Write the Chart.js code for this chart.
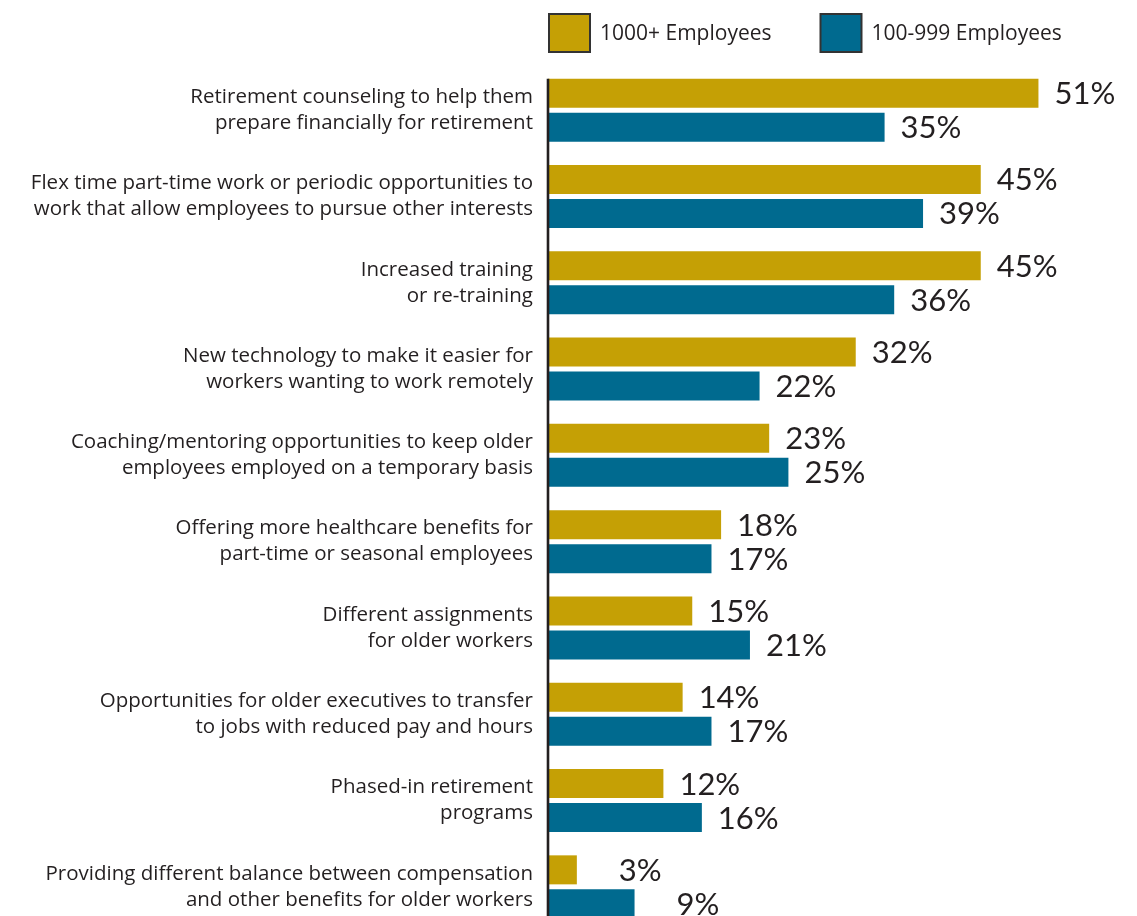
<!DOCTYPE html>
<html>
<head>
<meta charset="utf-8">
<script src="https://cdn.jsdelivr.net/npm/chart.js@4.4.1/dist/chart.umd.min.js"></script>
<style>
  html, body { margin: 0; padding: 0; background: #fff; overflow: hidden; }
  canvas { display: block; }
</style>
</head>
<body>
<canvas id="programs-chart" width="1137" height="975"></canvas>
<script>
// Programs offered to older workers, by company size (% of employers)
const categories = [
  ['Retirement counseling to help them', 'prepare financially for retirement'],
  ['Flex time part-time work or periodic opportunities to', 'work that allow employees to pursue other interests'],
  ['Increased training', 'or re-training'],
  ['New technology to make it easier for', 'workers wanting to work remotely'],
  ['Coaching/mentoring opportunities to keep older', 'employees employed on a temporary basis'],
  ['Offering more healthcare benefits for', 'part-time or seasonal employees'],
  ['Different assignments', 'for older workers'],
  ['Opportunities for older executives to transfer', 'to jobs with reduced pay and hours'],
  ['Phased-in retirement', 'programs'],
  ['Providing different balance between compensation', 'and other benefits for older workers']
];
const largeEmployers = [51, 45, 45, 32, 23, 18, 15, 14, 12, 3];
const midEmployers = [35, 39, 36, 22, 25, 17, 21, 17, 16, 9];
const seriesNames = ['1000+ Employees', '100-999 Employees'];

const GOLD = '#C5A005';
const BLUE = '#006A8F';
const INK = '#231F20';
const labelFont = '"Open Sans", Roboto, sans-serif';
const valueFont = 'Lato, "Open Sans", sans-serif';

// legend drawn above the bars, lined up with the axis
const legendBoxes = {
  id: 'legendBoxes',
  afterDraw(chart) {
    const ctx = chart.ctx;
    const boxW = 41, boxH = 38, top = 14;
    let x = chart.chartArea.left + 1;
    ctx.save();
    ctx.font = '21px ' + labelFont;
    ctx.textBaseline = 'middle';
    ctx.textAlign = 'left';
    chart.data.datasets.forEach(ds => {
      ctx.fillStyle = ds.backgroundColor;
      ctx.fillRect(x, top, boxW, boxH);
      ctx.lineWidth = 2;
      ctx.strokeStyle = '#333';
      ctx.strokeRect(x, top, boxW, boxH);
      ctx.fillStyle = INK;
      const tx = x + boxW + 10;
      ctx.fillText(ds.label, tx, top + boxH / 2 + 1);
      x = tx + ctx.measureText(ds.label).width + 49;
    });
    ctx.restore();
  }
};

// vertical axis line starting at the first bar
const axisLine = {
  id: 'axisLine',
  afterDatasetsDraw(chart) {
    const ctx = chart.ctx;
    const first = chart.getDatasetMeta(0).data[0];
    const top = first.y - first.height / 2;
    ctx.save();
    ctx.strokeStyle = INK;
    ctx.lineWidth = 2.6;
    ctx.beginPath();
    ctx.moveTo(chart.chartArea.left, top);
    ctx.lineTo(chart.chartArea.left, chart.height);
    ctx.stroke();
    ctx.restore();
  }
};

// percentage printed after each bar
const valueLabels = {
  id: 'valueLabels',
  afterDatasetsDraw(chart) {
    const ctx = chart.ctx;
    ctx.save();
    ctx.font = '31px ' + valueFont;
    ctx.fillStyle = INK;
    ctx.textAlign = 'left';
    ctx.textBaseline = 'middle';
    const pad = ctx.measureText('0 ').width;
    chart.data.datasets.forEach((ds, di) => {
      chart.getDatasetMeta(di).data.forEach((bar, i) => {
        const v = ds.data[i];
        const x = bar.x + 16 + (v < 10 ? pad : 0);
        ctx.fillText(v + '%', x, bar.y + 1);
      });
    });
    ctx.restore();
  }
};

new Chart(document.getElementById('programs-chart'), {
  type: 'bar',
  data: {
    labels: categories,
    datasets: [
      { label: seriesNames[0], data: largeEmployers, backgroundColor: GOLD },
      { label: seriesNames[1], data: midEmployers, backgroundColor: BLUE }
    ]
  },
  options: {
    indexAxis: 'y',
    responsive: false,
    animation: false,
    layout: { padding: { top: 67, right: 12, bottom: 45, left: 0 } },
    datasets: {
      bar: { categoryPercentage: 0.788, barPercentage: 0.853 }
    },
    scales: {
      x: {
        display: false,
        min: 0,
        max: 60
      },
      y: {
        grid: { display: false, drawTicks: false },
        border: { display: false },
        afterFit(scale) { scale.width = 548; },
        ticks: {
          color: INK,
          padding: 15,
          crossAlign: 'near',
          font: { family: labelFont, size: 20.5, lineHeight: '26px' }
        }
      }
    },
    plugins: {
      legend: { display: false },
      tooltip: { enabled: false }
    }
  },
  plugins: [legendBoxes, axisLine, valueLabels]
});
</script>
</body>
</html>
